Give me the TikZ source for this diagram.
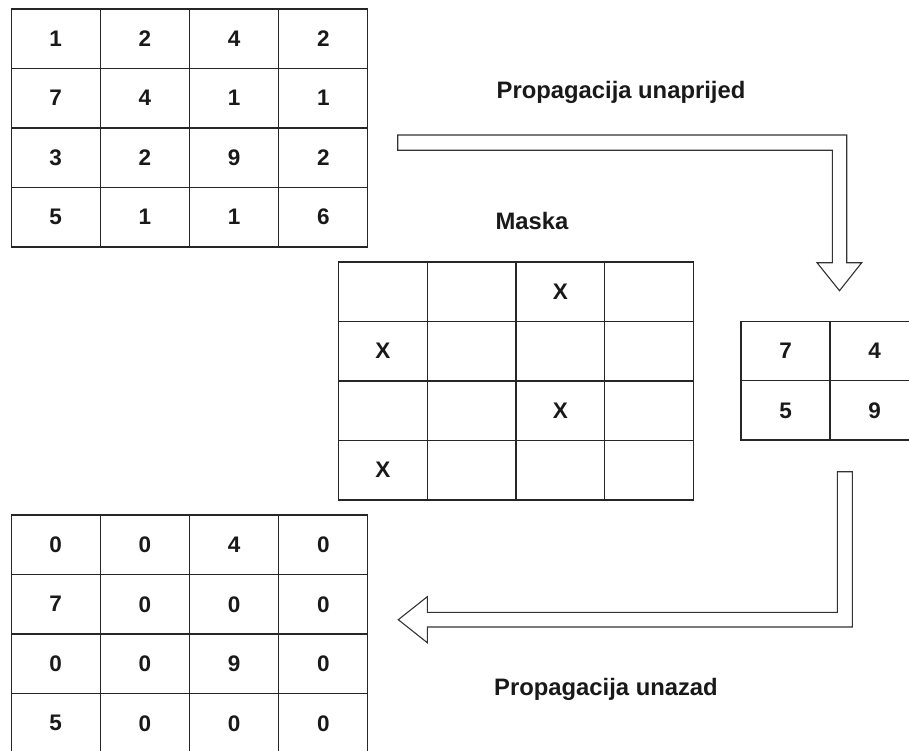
\documentclass[tikz,border=0pt]{standalone}
\usepackage{fontspec}
\setmainfont{Liberation Sans}
\begin{document}
\begin{tikzpicture}[x=1pt,y=-1pt,
  every node/.style={font=\fontsize{22.5}{26}\selectfont\bfseries, text=black!90},
  cell/.style={draw=black!85, line width=1.1pt, minimum width=89pt, minimum height=59.5pt, inner sep=0pt, anchor=center},
  blockarrow/.style={draw=black!80, line width=1.1pt, fill=white, line join=miter},
  lbl/.style={anchor=base, font=\fontsize{23.8}{28}\selectfont\bfseries}]
\clip (0,0) rectangle (909,751);
\fill[white] (0,0) rectangle (909,751);
% input matrix
\foreach \r/\row in {1/{1,2,4,2},2/{7,4,1,1},3/{3,2,9,2},4/{5,1,1,6}}
  \foreach \v [count=\c] in \row
    \node[cell] (t-\r-\c) at ({11+89.25*(\c-0.5)},{9+59.5*(\r-0.5)}) {\v};
% mask
\foreach \r/\row in {1/{{},{},X,{}},2/{X,{},{},{}},3/{{},{},X,{}},4/{X,{},{},{}}}
  \foreach \v [count=\c] in \row
    \node[cell] (m-\r-\c) at ({338.5+88.75*(\c-0.5)},{262+59.5*(\r-0.5)}) {\v};
% pooled
\foreach \r/\row in {1/{7,4},2/{5,9}}
  \foreach \v [count=\c] in \row
    \node[cell, minimum height=59.25pt] (s-\r-\c) at ({741+89*(\c-0.5)},{321.5+59.25*(\r-0.5)}) {\v};
% backprop matrix
\foreach \r/\row in {1/{0,0,4,0},2/{7,0,0,0},3/{0,0,9,0},4/{5,0,0,0}}
  \foreach \v [count=\c] in \row
    \node[cell] (b-\r-\c) at ({11+89.25*(\c-0.5)},{515+59.5*(\r-0.5)}) {\v};
% labels
\node[lbl] (fwd) at (621,98.3) {Propagacija unaprijed};
\node[lbl] (mask) at (532,229.3) {Maska};
\node[lbl] (bwd) at (606,695) {Propagacija unazad};
% block arrows
\draw[blockarrow] (397.7,135) -- (846.7,135) -- (846.7,262.7) -- (861.7,262.7)
  -- (839.5,290.7) -- (817,262.7) -- (832.3,262.7) -- (832.3,150.3) -- (397.7,150.3) -- cycle;
\draw[blockarrow] (837.3,471.7) -- (852.3,471.7) -- (852.3,627) -- (427.3,627)
  -- (427.3,642.7) -- (398.3,619.7) -- (427.3,596.7) -- (427.3,612.3) -- (837.3,612.3) -- cycle;
\end{tikzpicture}
\end{document}
